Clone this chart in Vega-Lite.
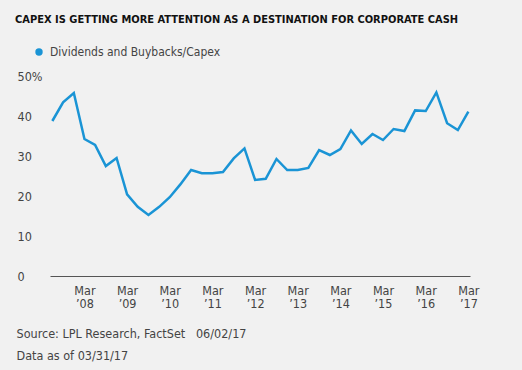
{
  "$schema": "https://vega.github.io/schema/vega-lite/v6.json",
  "width": 420,
  "height": 200,
  "autosize": {"type": "none"},
  "padding": {"left": 50, "top": 76, "right": 52, "bottom": 94},
  "background": "#f1f1f1",
  "config": {
    "view": {"stroke": null},
    "font": "DejaVu Sans Condensed, Roboto",
    "axis": {"grid": false, "ticks": false, "labelFont": "DejaVu Sans Condensed, Roboto", "labelColor": "#444444", "labelFontSize": 12.5, "titleFont": "DejaVu Sans Condensed, Roboto"}
  },
  "title": {
    "text": "CAPEX IS GETTING MORE ATTENTION AS A DESTINATION FOR CORPORATE CASH",
    "anchor": "start",
    "frame": "group",
    "orient": "top",
    "dx": -35,
    "offset": 21,
    "font": "DejaVu Sans Condensed, Roboto",
    "fontWeight": "bold",
    "fontSize": 11,
    "color": "#111111"
  },
  "data": {
    "values": [
      {"date": "2007-06-30", "value": 38.75, "series": "Dividends and Buybacks/Capex"},
      {"date": "2007-09-30", "value": 43.4, "series": "Dividends and Buybacks/Capex"},
      {"date": "2007-12-31", "value": 45.75, "series": "Dividends and Buybacks/Capex"},
      {"date": "2008-03-31", "value": 34.25, "series": "Dividends and Buybacks/Capex"},
      {"date": "2008-06-30", "value": 32.75, "series": "Dividends and Buybacks/Capex"},
      {"date": "2008-09-30", "value": 27.5, "series": "Dividends and Buybacks/Capex"},
      {"date": "2008-12-31", "value": 29.5, "series": "Dividends and Buybacks/Capex"},
      {"date": "2009-03-31", "value": 20.4, "series": "Dividends and Buybacks/Capex"},
      {"date": "2009-06-30", "value": 17.3, "series": "Dividends and Buybacks/Capex"},
      {"date": "2009-09-30", "value": 15.25, "series": "Dividends and Buybacks/Capex"},
      {"date": "2009-12-31", "value": 17.3, "series": "Dividends and Buybacks/Capex"},
      {"date": "2010-03-31", "value": 19.7, "series": "Dividends and Buybacks/Capex"},
      {"date": "2010-06-30", "value": 22.9, "series": "Dividends and Buybacks/Capex"},
      {"date": "2010-09-30", "value": 26.5, "series": "Dividends and Buybacks/Capex"},
      {"date": "2010-12-31", "value": 25.7, "series": "Dividends and Buybacks/Capex"},
      {"date": "2011-03-31", "value": 25.7, "series": "Dividends and Buybacks/Capex"},
      {"date": "2011-06-30", "value": 26.0, "series": "Dividends and Buybacks/Capex"},
      {"date": "2011-09-30", "value": 29.4, "series": "Dividends and Buybacks/Capex"},
      {"date": "2011-12-31", "value": 31.9, "series": "Dividends and Buybacks/Capex"},
      {"date": "2012-03-31", "value": 24.0, "series": "Dividends and Buybacks/Capex"},
      {"date": "2012-06-30", "value": 24.3, "series": "Dividends and Buybacks/Capex"},
      {"date": "2012-09-30", "value": 29.25, "series": "Dividends and Buybacks/Capex"},
      {"date": "2012-12-31", "value": 26.5, "series": "Dividends and Buybacks/Capex"},
      {"date": "2013-03-31", "value": 26.5, "series": "Dividends and Buybacks/Capex"},
      {"date": "2013-06-30", "value": 27.0, "series": "Dividends and Buybacks/Capex"},
      {"date": "2013-09-30", "value": 31.5, "series": "Dividends and Buybacks/Capex"},
      {"date": "2013-12-31", "value": 30.25, "series": "Dividends and Buybacks/Capex"},
      {"date": "2014-03-31", "value": 31.75, "series": "Dividends and Buybacks/Capex"},
      {"date": "2014-06-30", "value": 36.4, "series": "Dividends and Buybacks/Capex"},
      {"date": "2014-09-30", "value": 33.0, "series": "Dividends and Buybacks/Capex"},
      {"date": "2014-12-31", "value": 35.5, "series": "Dividends and Buybacks/Capex"},
      {"date": "2015-03-31", "value": 34.0, "series": "Dividends and Buybacks/Capex"},
      {"date": "2015-06-30", "value": 36.75, "series": "Dividends and Buybacks/Capex"},
      {"date": "2015-09-30", "value": 36.25, "series": "Dividends and Buybacks/Capex"},
      {"date": "2015-12-31", "value": 41.4, "series": "Dividends and Buybacks/Capex"},
      {"date": "2016-03-31", "value": 41.25, "series": "Dividends and Buybacks/Capex"},
      {"date": "2016-06-30", "value": 45.9, "series": "Dividends and Buybacks/Capex"},
      {"date": "2016-09-30", "value": 38.2, "series": "Dividends and Buybacks/Capex"},
      {"date": "2016-12-31", "value": 36.5, "series": "Dividends and Buybacks/Capex"},
      {"date": "2017-03-31", "value": 41.1, "series": "Dividends and Buybacks/Capex"}
    ]
  },
  "mark": {"type": "line", "strokeWidth": 2.5, "strokeJoin": "miter"},
  "encoding": {
    "x": {
      "field": "date",
      "type": "temporal",
      "scale": {"type": "utc", "domain": [{"year": 2007, "month": 6, "date": 10, "utc": true}, {"year": 2017, "month": 4, "date": 14, "utc": true}]},
      "axis": {
        "values": [
          {"year": 2008, "month": 3, "date": 31, "utc": true},
          {"year": 2009, "month": 3, "date": 31, "utc": true},
          {"year": 2010, "month": 3, "date": 31, "utc": true},
          {"year": 2011, "month": 3, "date": 31, "utc": true},
          {"year": 2012, "month": 3, "date": 31, "utc": true},
          {"year": 2013, "month": 3, "date": 31, "utc": true},
          {"year": 2014, "month": 3, "date": 31, "utc": true},
          {"year": 2015, "month": 3, "date": 31, "utc": true},
          {"year": 2016, "month": 3, "date": 31, "utc": true},
          {"year": 2017, "month": 3, "date": 31, "utc": true}
        ],
        "labelExpr": "['Mar', '\u2019' + utcFormat(datum.value, '%y')]",
        "labelLineHeight": 13.5,
        "labelBaseline": "top",
        "labelPadding": 8,
        "labelAlign": "center",
        "domainColor": "#555555",
        "domainWidth": 1.2,
        "title": ["Source: LPL Research, FactSet\u00a0\u00a0\u00a006/02/17", "Data as of 03/31/17"],
        "titleAnchor": "start",
        "titleAlign": "left",
        "titleBaseline": "alphabetic",
        "titleX": -34,
        "titleY": 61,
        "titleLineHeight": 22,
        "titleFontSize": 12.5,
        "titleFontWeight": "normal",
        "titleColor": "#444444"
      }
    },
    "y": {
      "field": "value",
      "type": "quantitative",
      "scale": {"domain": [0, 50]},
      "axis": {
        "values": [0, 10, 20, 30, 40, 50],
        "labelExpr": "datum.value == 50 ? '50%' : datum.value == 0 ? '\u20070' : datum.label",
        "labelAlign": "left",
        "labelBaseline": "middle",
        "labelPadding": 33,
        "domain": false,
        "title": null
      }
    },
    "color": {
      "field": "series",
      "type": "nominal",
      "scale": {"range": ["#1a94d5"]},
      "legend": {
        "title": null,
        "orient": "none",
        "legendX": -17,
        "legendY": -30,
        "symbolType": "circle",
        "symbolSize": 55,
        "symbolFillColor": "#1a94d5",
        "symbolStrokeWidth": 0,
        "labelFont": "DejaVu Sans Condensed, Roboto",
        "labelFontSize": 12,
        "labelColor": "#444444",
        "labelOffset": 5,
        "labelLimit": 0
      }
    }
  }
}
